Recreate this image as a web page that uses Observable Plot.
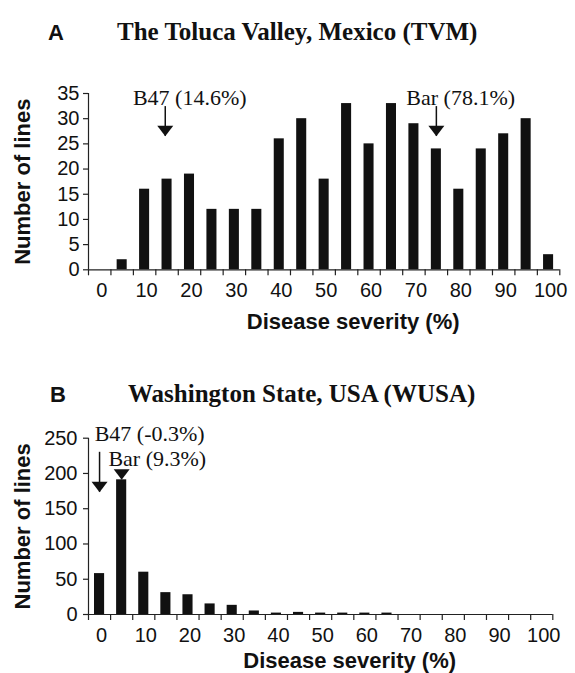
<!DOCTYPE html>
<html>
<head>
<meta charset="utf-8">
<script src="https://cdn.jsdelivr.net/npm/d3@7"></script>
<script src="https://cdn.jsdelivr.net/npm/@observablehq/plot@0.6"></script>
<style>
  html, body { margin: 0; padding: 0; background: #fff; }
  #page { position: relative; width: 575px; height: 673px; overflow: hidden; background: #fff; }
  .panel-letter { position: absolute; font-family: "Liberation Sans", Arial, sans-serif; font-weight: bold; font-size: 22px; color: #111; line-height: 1; }
  .panel-title { position: absolute; font-family: "Liberation Serif", "Times New Roman", serif; font-weight: bold; font-size: 25px; color: #111; line-height: 1; white-space: nowrap; }
  .chart { position: absolute; left: 0; }
</style>
</head>
<body>
<div id="page">
  <div class="panel-letter" style="left:48px; top:22px;">A</div>
  <div class="panel-title" style="left:117px; top:19px;">The Toluca Valley, Mexico (TVM)</div>
  <div class="chart" id="chartA" style="top:50px;"></div>
  <div class="panel-letter" style="left:50px; top:384px;">B</div>
  <div class="panel-title" style="left:128px; top:381px;">Washington State, USA (WUSA)</div>
  <div class="chart" id="chartB" style="top:410px;"></div>
</div>
<script>
// ---- data ----
const bins = [0, 5, 10, 15, 20, 25, 30, 35, 40, 45, 50, 55, 60, 65, 70, 75, 80, 85, 90, 95, 100];
const countsA = [0, 2, 16, 18, 19, 12, 12, 12, 26, 30, 18, 33, 25, 33, 29, 24, 16, 24, 27, 30, 3];
const countsB = [58, 191, 60, 31, 28, 15, 13, 5, 2, 3, 2, 2, 2, 2, 0, 0, 0, 0, 0, 0, 0];
const xTickLabels = [0, 10, 20, 30, 40, 50, 60, 70, 80, 90, 100];
const yTicksA = [0, 5, 10, 15, 20, 25, 30, 35];
const yTicksB = [0, 50, 100, 150, 200, 250];
const binWidth = 5;

// annotations: label text, label anchor x / y, arrow x, arrow top y, arrow tip y
const annLabelsA = ["B47 (14.6%)", "Bar (78.1%)"];
const annTextXA = [7.4, 68.3];
const annTextYA = [32.8, 32.8];
const annArrowXA = [14.6, 75];
const annArrowTopA = [32.4, 32.4];
const annArrowTipA = [26.5, 26.5];

const annLabelsB = ["B47 (-0.3%)", "Bar (9.3%)"];
const annTextXB = [-1.1, 2.0];
const annTextYB = [246.5, 210];
const annArrowXB = [0, 5];
const annArrowTopB = [230, null];
const annArrowTipB = [173.4, 191];

const xTitle = "Disease severity (%)";
const yTitle = "Number of lines";

// ---- helpers ----
const bounds = bins.map(b => b - binWidth / 2).concat([bins[bins.length - 1] + binWidth / 2]);
const xDomain = [bounds[0], bounds[bounds.length - 1]];

const downTriangle = {
  draw(context) {
    context.moveTo(-8, -10.5);
    context.lineTo(8, -10.5);
    context.lineTo(0, 0);
    context.closePath();
  }
};

function panel({counts, yTicks, yMax, labels, textX, textY, arrowX, arrowTop, arrowTip,
                height, marginTop, marginBottom, marginRight, inset, titleDy, tickPadY}) {
  const data = bins.map((b, i) => ({bin: b, count: counts[i]}));
  const ann = labels.map((l, i) => ({label: l, tx: textX[i], ty: textY[i], ax: arrowX[i], top: arrowTop[i], tip: arrowTip[i]}));
  return Plot.plot({
    width: 575,
    height,
    marginLeft: 88,
    marginRight,
    marginTop,
    marginBottom,
    x: {domain: xDomain},
    y: {domain: [0, yMax]},
    style: {fontFamily: "'Liberation Sans', Arial, sans-serif", fontSize: "20px", color: "#111", background: "white", overflow: "visible"},
    marks: [
      Plot.rectY(data, {x1: d => d.bin - binWidth / 2, x2: d => d.bin + binWidth / 2, y: "count", insetLeft: inset, insetRight: inset, fill: "#111"}),
      Plot.ruleY([0], {stroke: "#222", strokeWidth: 1.2}),
      Plot.ruleX([xDomain[0]], {stroke: "#222", strokeWidth: 1.2}),
      Plot.axisX(bounds, {tickSize: 6, tickFormat: () => "", label: null, stroke: "#222", strokeWidth: 1.2}),
      Plot.axisX(xTickLabels, {tickSize: 0, tickPadding: 13, label: null, dx: 2, fill: "#111"}),
      Plot.axisY(yTicks, {tickSize: 5, tickPadding: tickPadY, label: null, stroke: "#222", strokeWidth: 1.2, fill: "#111"}),
      Plot.ruleX(ann.filter(d => d.top != null), {x: "ax", y1: "top", y2: "tip", stroke: "#111", strokeWidth: 1.5}),
      Plot.dot(ann, {x: "ax", y: "tip", symbol: downTriangle, fill: "#111", stroke: "none", r: 5}),
      Plot.text(ann, {x: "tx", y: "ty", text: "label", textAnchor: "start", lineAnchor: "bottom",
                      fontFamily: "'Liberation Serif', 'Times New Roman', serif", fontSize: 22, fill: "#111"}),
      Plot.text([xTitle], {frameAnchor: "bottom", textAnchor: "middle", lineAnchor: "middle", dx: 29, dy: titleDy, fontWeight: "bold", fontSize: 22, fill: "#111"}),
      Plot.text([yTitle], {frameAnchor: "left", textAnchor: "middle", lineAnchor: "middle", dx: -66, rotate: -90, fontWeight: "bold", fontSize: 22, fill: "#111"})
    ]
  });
}

document.getElementById("chartA").append(panel({
  counts: countsA, yTicks: yTicksA, yMax: 35,
  labels: annLabelsA, textX: annTextXA, textY: annTextYA, arrowX: annArrowXA, arrowTop: annArrowTopA, arrowTip: annArrowTipA,
  height: 290, marginTop: 43, marginBottom: 70.7, marginRight: 15.7, inset: 6.2, titleDy: 52, tickPadY: 4
}));

document.getElementById("chartB").append(panel({
  counts: countsB, yTicks: yTicksB, yMax: 250,
  labels: annLabelsB, textX: annTextXB, textY: annTextYB, arrowX: annArrowXB, arrowTop: annArrowTopB, arrowTip: annArrowTipB,
  height: 263, marginTop: 27.7, marginBottom: 59, marginRight: 22.7, inset: 6, titleDy: 46.5, tickPadY: 6
}));
</script>
</body>
</html>
